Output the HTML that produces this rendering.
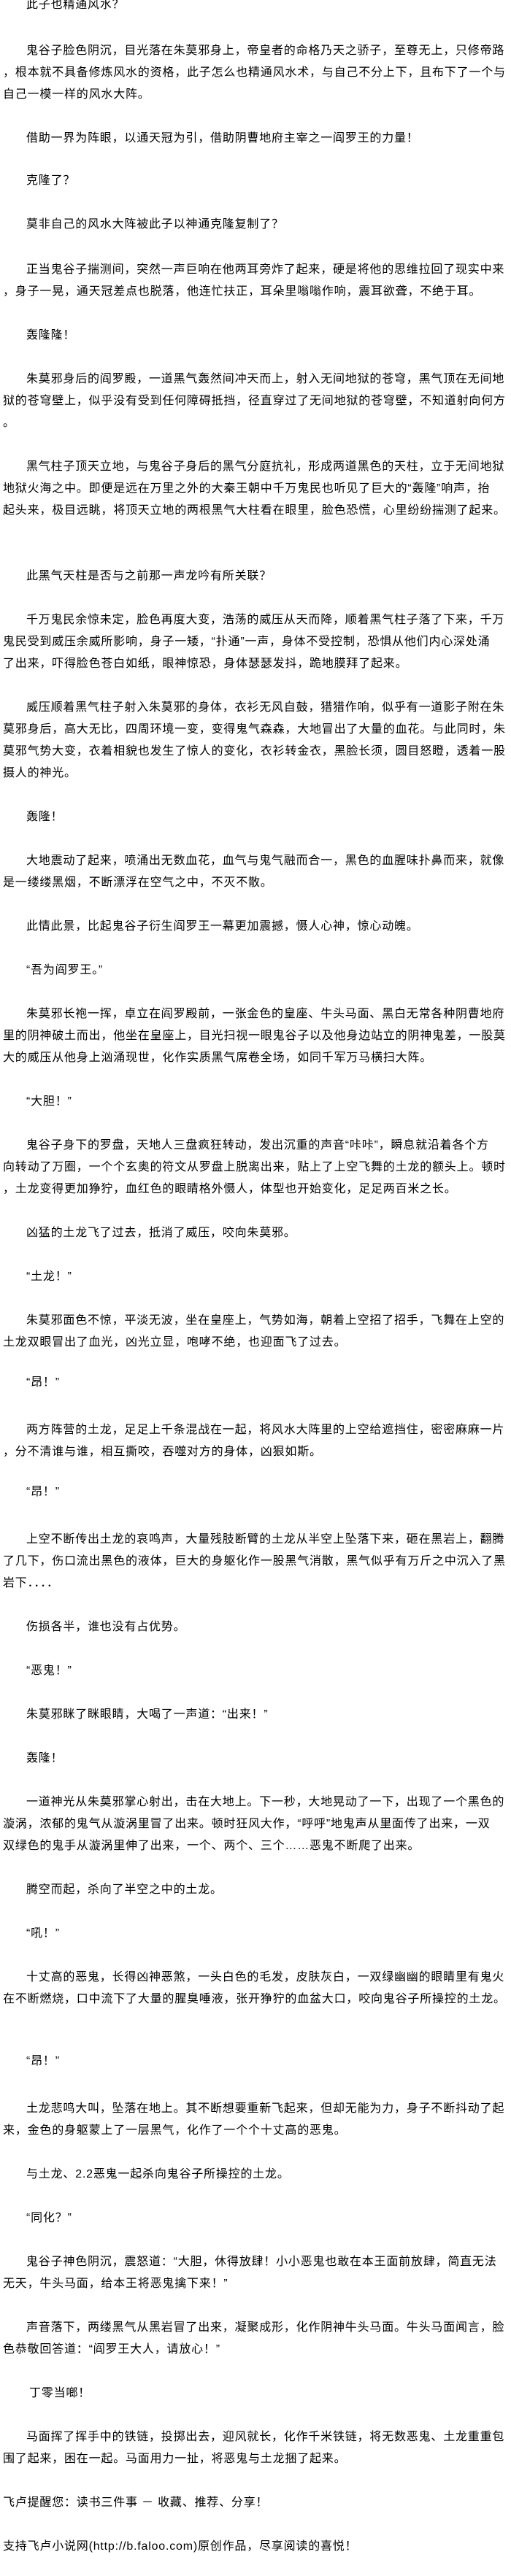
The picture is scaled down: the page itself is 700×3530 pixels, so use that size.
<!DOCTYPE html>
<html><head><meta charset="utf-8"><style>
html,body{margin:0;padding:0;background:#fff;}
body{width:700px;height:3530px;position:relative;overflow:hidden;}
.l{position:absolute;height:30px;line-height:30px;font-size:16px;letter-spacing:0.8px;white-space:nowrap;color:#000;font-family:"Liberation Sans","WenQuanYi Zen Hei","Noto Sans CJK SC",sans-serif;}
.i{left:36px;}
.n{left:4px;}
</style></head><body>
<div class="l i" style="top:-8px">此子也精通风水？</div>
<div class="l i" style="top:55px">鬼谷子脸色阴沉，目光落在朱莫邪身上，帝皇者的命格乃天之骄子，至尊无上，只修帝路</div>
<div class="l n" style="top:85px">，根本就不具备修炼风水的资格，此子怎么也精通风水术，与自己不分上下，且布下了一个与</div>
<div class="l n" style="top:115px">自己一模一样的风水大阵。</div>
<div class="l i" style="top:175px">借助一界为阵眼，以通天冠为引，借助阴曹地府主宰之一阎罗王的力量！</div>
<div class="l i" style="top:233px">克隆了？</div>
<div class="l i" style="top:293px">莫非自己的风水大阵被此子以神通克隆复制了？</div>
<div class="l i" style="top:355px">正当鬼谷子揣测间，突然一声巨响在他两耳旁炸了起来，硬是将他的思维拉回了现实中来</div>
<div class="l n" style="top:385px">，身子一晃，通天冠差点也脱落，他连忙扶正，耳朵里嗡嗡作响，震耳欲聋，不绝于耳。</div>
<div class="l i" style="top:445px">轰隆隆！</div>
<div class="l i" style="top:505px">朱莫邪身后的阎罗殿，一道黑气轰然间冲天而上，射入无间地狱的苍穹，黑气顶在无间地</div>
<div class="l n" style="top:535px">狱的苍穹壁上，似乎没有受到任何障碍抵挡，径直穿过了无间地狱的苍穹壁，不知道射向何方</div>
<div class="l n" style="top:565px">。</div>
<div class="l i" style="top:625px">黑气柱子顶天立地，与鬼谷子身后的黑气分庭抗礼，形成两道黑色的天柱，立于无间地狱</div>
<div class="l n" style="top:655px">地狱火海之中。即便是远在万里之外的大秦王朝中千万鬼民也听见了巨大的“轰隆”响声，抬</div>
<div class="l n" style="top:685px">起头来，极目远眺，将顶天立地的两根黑气大柱看在眼里，脸色恐慌，心里纷纷揣测了起来。</div>
<div class="l i" style="top:775px">此黑气天柱是否与之前那一声龙吟有所关联？</div>
<div class="l i" style="top:835px">千万鬼民余惊未定，脸色再度大变，浩荡的威压从天而降，顺着黑气柱子落了下来，千万</div>
<div class="l n" style="top:865px">鬼民受到威压余威所影响，身子一矮，“扑通”一声，身体不受控制，恐惧从他们内心深处涌</div>
<div class="l n" style="top:895px">了出来，吓得脸色苍白如纸，眼神惊恐，身体瑟瑟发抖，跪地膜拜了起来。</div>
<div class="l i" style="top:955px">威压顺着黑气柱子射入朱莫邪的身体，衣衫无风自鼓，猎猎作响，似乎有一道影子附在朱</div>
<div class="l n" style="top:985px">莫邪身后，高大无比，四周环境一变，变得鬼气森森，大地冒出了大量的血花。与此同时，朱</div>
<div class="l n" style="top:1015px">莫邪气势大变，衣着相貌也发生了惊人的变化，衣衫转金衣，黑脸长须，圆目怒瞪，透着一股</div>
<div class="l n" style="top:1045px">摄人的神光。</div>
<div class="l i" style="top:1105px">轰隆！</div>
<div class="l i" style="top:1165px">大地震动了起来，喷涌出无数血花，血气与鬼气融而合一，黑色的血腥味扑鼻而来，就像</div>
<div class="l n" style="top:1195px">是一缕缕黑烟，不断漂浮在空气之中，不灭不散。</div>
<div class="l i" style="top:1255px">此情此景，比起鬼谷子衍生阎罗王一幕更加震撼，慑人心神，惊心动魄。</div>
<div class="l i" style="top:1315px">“吾为阎罗王。”</div>
<div class="l i" style="top:1375px">朱莫邪长袍一挥，卓立在阎罗殿前，一张金色的皇座、牛头马面、黑白无常各种阴曹地府</div>
<div class="l n" style="top:1405px">里的阴神破土而出，他坐在皇座上，目光扫视一眼鬼谷子以及他身边站立的阴神鬼差，一股莫</div>
<div class="l n" style="top:1435px">大的威压从他身上汹涌现世，化作实质黑气席卷全场，如同千军万马横扫大阵。</div>
<div class="l i" style="top:1495px">“大胆！”</div>
<div class="l i" style="top:1555px">鬼谷子身下的罗盘，天地人三盘疯狂转动，发出沉重的声音“咔咔”，瞬息就沿着各个方</div>
<div class="l n" style="top:1585px">向转动了万圈，一个个玄奥的符文从罗盘上脱离出来，贴上了上空飞舞的土龙的额头上。顿时</div>
<div class="l n" style="top:1615px">，土龙变得更加狰狞，血红色的眼睛格外慑人，体型也开始变化，足足两百米之长。</div>
<div class="l i" style="top:1675px">凶猛的土龙飞了过去，抵消了威压，咬向朱莫邪。</div>
<div class="l i" style="top:1735px">“土龙！”</div>
<div class="l i" style="top:1795px">朱莫邪面色不惊，平淡无波，坐在皇座上，气势如海，朝着上空招了招手，飞舞在上空的</div>
<div class="l n" style="top:1825px">土龙双眼冒出了血光，凶光立显，咆哮不绝，也迎面飞了过去。</div>
<div class="l i" style="top:1880px">“昂！”</div>
<div class="l i" style="top:1945px">两方阵营的土龙，足足上千条混战在一起，将风水大阵里的上空给遮挡住，密密麻麻一片</div>
<div class="l n" style="top:1975px">，分不清谁与谁，相互撕咬，吞噬对方的身体，凶狠如斯。</div>
<div class="l i" style="top:2030px">“昂！”</div>
<div class="l i" style="top:2095px">上空不断传出土龙的哀鸣声，大量残肢断臂的土龙从半空上坠落下来，砸在黑岩上，翻腾</div>
<div class="l n" style="top:2125px">了几下，伤口流出黑色的液体，巨大的身躯化作一股黑气消散，黑气似乎有万斤之中沉入了黑</div>
<div class="l n" style="top:2155px">岩下．．．．</div>
<div class="l i" style="top:2215px">伤损各半，谁也没有占优势。</div>
<div class="l i" style="top:2275px">“恶鬼！”</div>
<div class="l i" style="top:2335px">朱莫邪眯了眯眼睛，大喝了一声道：“出来！”</div>
<div class="l i" style="top:2395px">轰隆！</div>
<div class="l i" style="top:2455px">一道神光从朱莫邪掌心射出，击在大地上。下一秒，大地晃动了一下，出现了一个黑色的</div>
<div class="l n" style="top:2485px">漩涡，浓郁的鬼气从漩涡里冒了出来。顿时狂风大作，“呼呼”地鬼声从里面传了出来，一双</div>
<div class="l n" style="top:2515px">双绿色的鬼手从漩涡里伸了出来，一个、两个、三个……恶鬼不断爬了出来。</div>
<div class="l i" style="top:2575px">腾空而起，杀向了半空之中的土龙。</div>
<div class="l i" style="top:2635px">“吼！”</div>
<div class="l i" style="top:2695px">十丈高的恶鬼，长得凶神恶煞，一头白色的毛发，皮肤灰白，一双绿幽幽的眼睛里有鬼火</div>
<div class="l n" style="top:2725px">在不断燃烧，口中流下了大量的腥臭唾液，张开狰狞的血盆大口，咬向鬼谷子所操控的土龙。</div>
<div class="l i" style="top:2810px">“昂！”</div>
<div class="l i" style="top:2875px">土龙悲鸣大叫，坠落在地上。其不断想要重新飞起来，但却无能为力，身子不断抖动了起</div>
<div class="l n" style="top:2905px">来，金色的身躯蒙上了一层黑气，化作了一个个十丈高的恶鬼。</div>
<div class="l i" style="top:2965px">与土龙、2.2恶鬼一起杀向鬼谷子所操控的土龙。</div>
<div class="l i" style="top:3025px">“同化？”</div>
<div class="l i" style="top:3085px">鬼谷子神色阴沉，震怒道：“大胆，休得放肆！小小恶鬼也敢在本王面前放肆，简直无法</div>
<div class="l n" style="top:3115px">无天，牛头马面，给本王将恶鬼擒下来！”</div>
<div class="l i" style="top:3175px">声音落下，两缕黑气从黑岩冒了出来，凝聚成形，化作阴神牛头马面。牛头马面闻言，脸</div>
<div class="l n" style="top:3205px">色恭敬回答道：“阎罗王大人，请放心！”</div>
<div class="l i" style="top:3265px;left:40px">丁零当啷！</div>
<div class="l i" style="top:3325px">马面挥了挥手中的铁链，投掷出去，迎风就长，化作千米铁链，将无数恶鬼、土龙重重包</div>
<div class="l n" style="top:3355px">围了起来，困在一起。马面用力一扯，将恶鬼与土龙捆了起来。</div>
<div class="l n" style="top:3415px">飞卢提醒您：读书三件事 － 收藏、推荐、分享！</div>
<div class="l n" style="top:3475px">支持飞卢小说网(http://b.faloo.com)原创作品，尽享阅读的喜悦！</div>
</body></html>
